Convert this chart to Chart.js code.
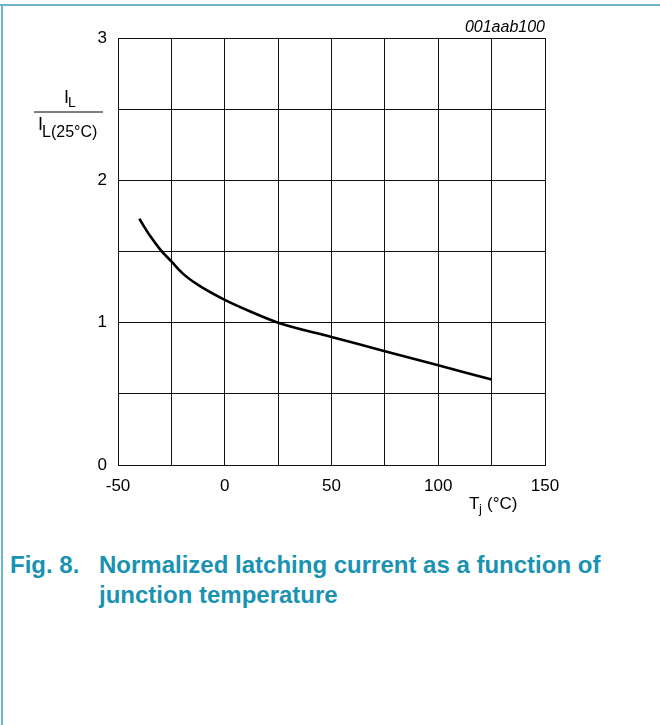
<!DOCTYPE html>
<html lang="en">
<head>
    <meta charset="UTF-8">
    <title>Fig. 8</title>
    <style>
        body { margin: 0; background: #fff; }
        #page { position: relative; width: 660px; height: 725px; overflow: hidden; }
        #topline { position: absolute; left: 0; top: 4px; width: 660px; height: 2px; background: #6fb4c9; }
        #leftline { position: absolute; left: 1px; top: 4px; width: 2px; height: 721px; background: #6fb4c9; }
        #myChart { position: absolute; left: 0; top: 0; }
        .cap { position: absolute; font-family: "Liberation Sans", Arial, sans-serif; font-weight: bold;
               font-size: 24px; color: #1a93b2; white-space: nowrap; line-height: 30px; }
    </style>
</head>
<body>
<div id="page">
    <canvas id="myChart" width="660" height="530"></canvas>
    <div id="topline"></div>
    <div id="leftline"></div>
    <div class="cap" style="left:10px; top:550px;">Fig. 8.</div>
    <div class="cap" style="left:99px; top:550px;">Normalized latching current as a function of<br>junction temperature</div>
</div>
<script src="https://cdn.jsdelivr.net/npm/chart.js"></script>
<script>
    // Tj (°C) and IL / IL(25°C)
    const tempC = [-40, -35, -30, -25, -20, -12.5, 0, 12.5, 25, 50, 75, 100, 125]
    const ilNorm = [1.73, 1.61, 1.51, 1.43, 1.35, 1.265, 1.16, 1.075, 1.0, 0.9, 0.8, 0.7, 0.6]
    const xTicks = [-50, 0, 50, 100, 150]
    const yTicks = [0, 1, 2, 3]

    const FONT = '"Liberation Sans", Arial, sans-serif'

    const labelsPlugin = {
        id: 'labels',
        afterDraw(chart) {
            const c = chart.ctx
            c.save()
            c.fillStyle = '#000'
            c.textBaseline = 'alphabetic'
            // figure code
            c.font = 'italic 16px ' + FONT
            c.textAlign = 'right'
            c.fillText('001aab100', 545, 32)
            c.textAlign = 'left'
            // y title as fraction
            c.font = '18px ' + FONT
            c.fillText('I', 64, 103)
            c.font = '14px ' + FONT
            c.fillText('L', 68, 107)
            c.fillRect(34, 111.5, 69, 1)
            c.font = '18px ' + FONT
            c.fillText('I', 38, 130)
            c.font = '16px ' + FONT
            c.fillText('L(25°C)', 42, 137)
            // x title
            c.font = '17px ' + FONT
            c.fillText('T', 469, 509)
            c.font = '13px ' + FONT
            c.fillText('j', 479, 513)
            c.font = '17px ' + FONT
            c.fillText('(°C)', 487, 509)
            c.restore()
        }
    }

    function creatChart() {
        const ctx = document.getElementById('myChart')
        new Chart(ctx, {
            type: 'line',
            data: {
                datasets: [{
                    data: tempC.map((t, i) => ({ x: t, y: ilNorm[i] })),
                    borderColor: '#000',
                    borderWidth: 2.6,
                    pointRadius: 0,
                    cubicInterpolationMode: 'monotone',
                    fill: false
                }]
            },
            options: {
                responsive: false,
                animation: false,
                devicePixelRatio: 1,
                layout: { padding: { left: 0, top: 38, right: 115, bottom: 0 } },
                plugins: { legend: { display: false }, tooltip: { enabled: false } },
                scales: {
                    x: {
                        type: 'linear', min: -50, max: 150,
                        afterFit(s) { s.height = 65; s.paddingLeft = 0; s.paddingRight = 0 },
                        afterBuildTicks(s) { s.ticks = []; for (let v = -50; v <= 150; v += 25) s.ticks.push({ value: v }) },
                        grid: { color: '#111', lineWidth: 1, drawTicks: false },
                        border: { color: '#111', width: 1 },
                        ticks: {
                            padding: 11, color: '#000', font: { family: FONT, size: 17 },
                            maxRotation: 0, autoSkip: false,
                            callback: v => xTicks.includes(v) ? String(v) : ''
                        }
                    },
                    y: {
                        min: 0, max: 3,
                        afterFit(s) { s.width = 118; s.paddingTop = 0; s.paddingBottom = 0 },
                        afterBuildTicks(s) { s.ticks = []; for (let v = 0; v <= 3; v += 0.5) s.ticks.push({ value: v }) },
                        grid: { color: '#111', lineWidth: 1, drawTicks: false },
                        border: { color: '#111', width: 1 },
                        ticks: {
                            padding: 11, color: '#000', font: { family: FONT, size: 17 },
                            autoSkip: false,
                            callback: v => yTicks.includes(v) ? String(v) : ''
                        }
                    }
                }
            },
            plugins: [labelsPlugin]
        })
    }
    creatChart()
</script>
</body>
</html>
